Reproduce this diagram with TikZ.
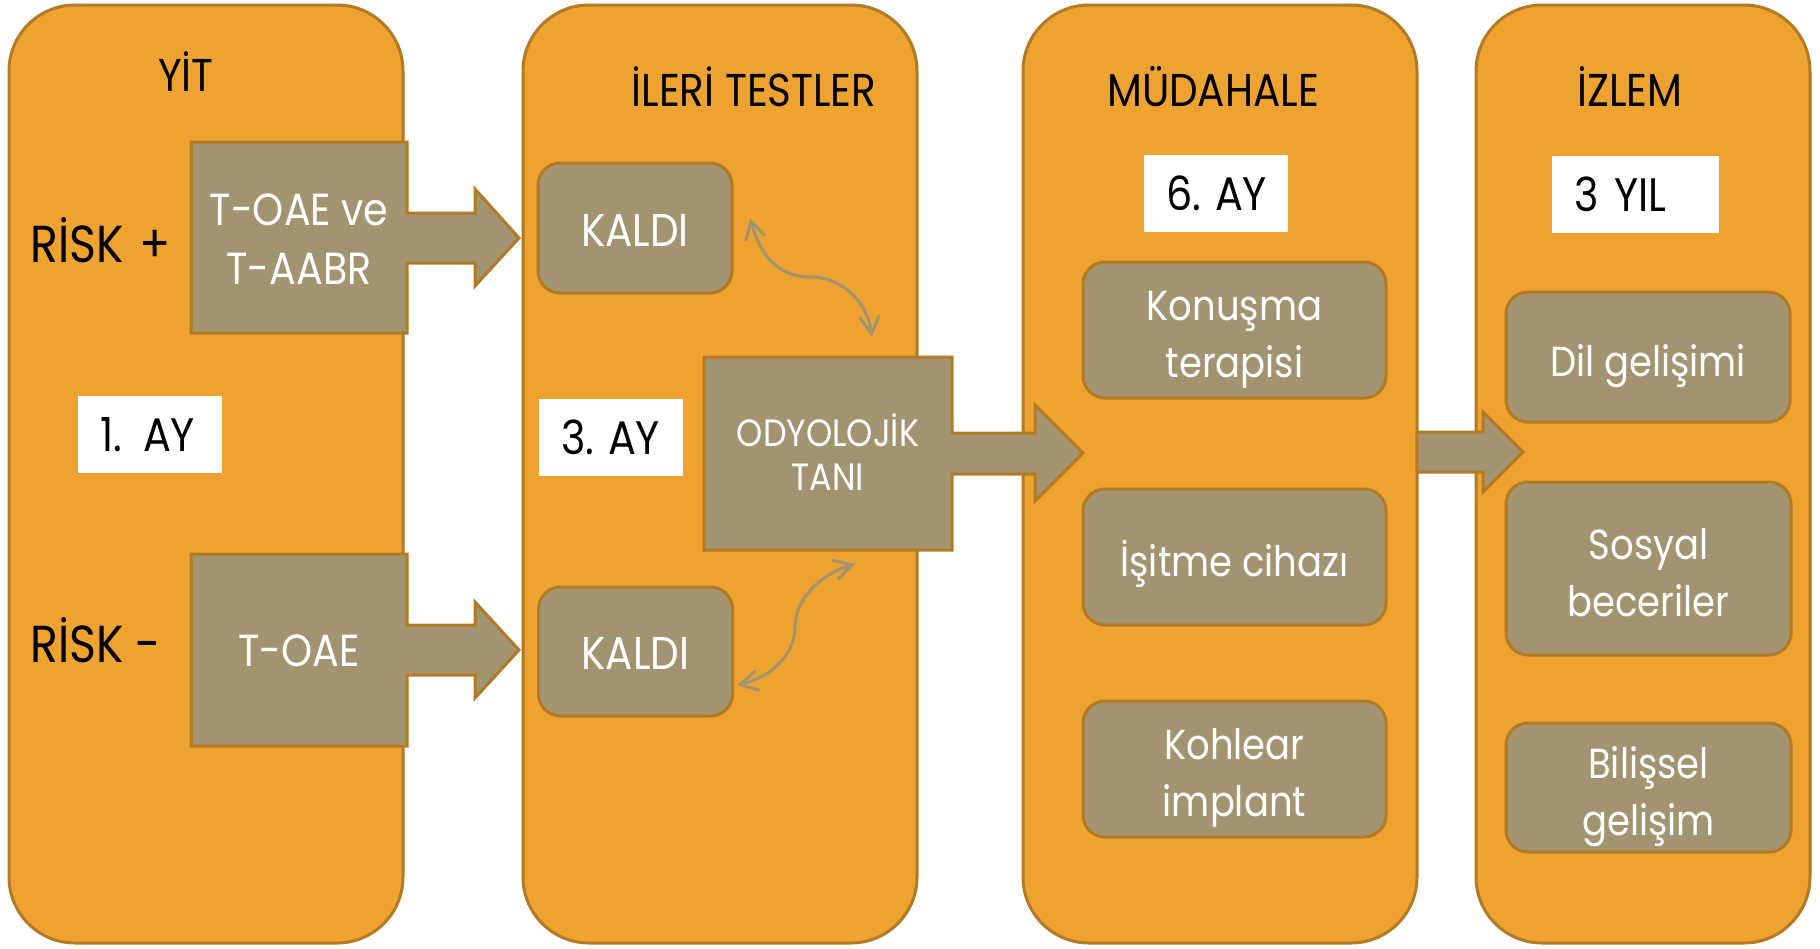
\documentclass[tikz,border=0pt]{standalone}
\usepackage{fontspec}
\setmainfont{Poppins}[FakeStretch=0.88]
\usetikzlibrary{arrows.meta}
\definecolor{orangefill}{HTML}{EEA22F}
\definecolor{orangeline}{HTML}{B47A23}
\definecolor{graybox}{HTML}{A29470}
\begin{document}
\begin{tikzpicture}[x=0.5pt,y=-0.5pt,
  panel/.style={draw=orangeline, fill=orangefill, line width=1.5pt, rounded corners=33pt, minimum height=469pt, inner sep=0pt},
  gbox/.style={draw=orangeline, fill=graybox, line width=1.5pt, rounded corners=11pt, text=white, align=center, inner sep=0pt, text depth=0pt},
  gone/.style={gbox, font=\fontsize{21}{28.5}\selectfont, text height=19.3pt},
  gtwo/.style={gbox, font=\fontsize{21}{28.5}\selectfont, text height=47.8pt},
  gcaps/.style={gbox, font=\fontsize{23}{28}\selectfont, text height=18.4pt},
  gtext/.style={text=white, align=center, inner sep=0pt, text depth=0pt},
  blockarrow/.style={draw=orangeline, fill=graybox, line width=1.5pt, line join=miter},
  wbox/.style={fill=white, inner xsep=11pt, inner ysep=0pt, minimum height=38.5pt, align=left, font=\fontsize{23.5}{28}\selectfont},
  head/.style={anchor=base, inner sep=0pt, font=\fontsize{23}{27}\selectfont},
  risk/.style={anchor=base west, inner sep=0pt, font=\fontsize{26}{30}\selectfont},
  link/.style={draw=graybox, line width=1.5pt, {Straight Barb[length=9pt,width=10pt]}-{Straight Barb[length=9pt,width=10pt]}}
]
\useasboundingbox (0,0) rectangle (1820,948);

% ---------- Panel 1: YIT ----------
\node[panel, minimum width=197pt] (p1) at (206,474) {};
\node[head] (h1) at (186,91) {YİT};
\node[risk] (r1) at (30,262) {RİSK\hspace{0.3em}+};
\node[risk] (r2) at (30,662) {RİSK -};
\node[wbox, text width=50pt] (ay1) at (150,434.5) {\mbox{1.\hspace{0.45em}AY}};

\draw[blockarrow] (191,142) -- (407,142) -- (407,213) -- (475,213) -- (475,189) -- (519,238)
  -- (475,286) -- (475,263) -- (407,263) -- (407,333) -- (191,333) -- cycle;
\node[gtext, font=\fontsize{22.5}{29.5}\selectfont, text height=45.2pt] (t1) at (299,239) {T-OAE ve\\T-AABR};

\draw[blockarrow] (191,554) -- (407,554) -- (407,625) -- (475,625) -- (475,602) -- (519,650)
  -- (475,698) -- (475,675) -- (407,675) -- (407,746) -- (191,746) -- cycle;
\node[gtext, font=\fontsize{22.5}{29.5}\selectfont, text height=15.7pt] (t2) at (299,651) {T-OAE};

% ---------- Panel 2: ILERI TESTLER ----------
\node[panel, minimum width=197pt] (p2) at (720,474) {};
\node[head] (h2) at (754,106) {İLERİ TESTLER};
\node[gcaps, minimum width=97pt, minimum height=65pt] (k1) at (635,228) {KALDI};
\node[gcaps, minimum width=97pt, minimum height=64.5pt] (k2) at (635.5,651.5) {KALDI};
\node[wbox, text width=50pt] (ay3) at (611,437) {\mbox{3.\hspace{0.3em}AY}};

% ---------- Panel 3: MUDAHALE ----------
\node[panel, minimum width=197pt] (p3) at (1220,474) {};

\draw[blockarrow] (704,357) -- (952,357) -- (952,433) -- (1035,433) -- (1035,405) -- (1083,453)
  -- (1035,501) -- (1035,474) -- (952,474) -- (952,550) -- (704,550) -- cycle;
\node[gtext, font=\fontsize{19}{22}\selectfont, text height=35.3pt] (ody) at (828,455) {ODYOLOJİK\\TANI};

\node[head] (h3) at (1213,106) {MÜDAHALE};
\node[wbox, text width=50pt] (ay6) at (1216,193) {\mbox{6.\hspace{0.3em}AY}};
\node[gtwo, minimum width=151.5pt, minimum height=68pt] (m1) at (1234.5,330) {Konuşma\\terapisi};
\node[gone, minimum width=151.5pt, minimum height=68pt] (m2) at (1234.5,557) {İşitme cihazı};
\node[gtwo, minimum width=151.5pt, minimum height=68pt] (m3) at (1234.5,769) {Kohlear\\implant};

% ---------- Panel 4: IZLEM ----------
\node[panel, minimum width=167pt] (p4) at (1643,474) {};
\draw[blockarrow] (1417,432) -- (1483,432) -- (1483,412) -- (1523,452) -- (1483,492)
  -- (1483,472) -- (1417,472) -- cycle;
\node[head] (h4) at (1630,106) {İZLEM};
\node[wbox, text width=61.5pt] (yil) at (1635.5,194.5) {\mbox{3 YIL}};
\node[gone, minimum width=142pt, minimum height=65pt] (z1) at (1648,357) {Dil gelişimi};
\node[gtwo, minimum width=142.5pt, minimum height=86.5pt] (z2) at (1648.5,568.5) {Sosyal\\beceriler};
\node[gtwo, minimum width=142.5pt, minimum height=64.5pt] (z3) at (1648.5,787.5) {Bilişsel\\gelişim};

% ---------- curved double arrows ----------
\coordinate (c1s) at (750,218);
\coordinate (c1m) at (810,277);
\coordinate (c1e) at (872,337);
\draw[link] (c1s) .. controls (760,255) and (778,277) .. (c1m)
  .. controls (845,277) and (868,305) .. (c1e);

\coordinate (c2s) at (855,564);
\coordinate (c2m) at (795,627);
\coordinate (c2e) at (737,685);
\draw[link] (c2s) .. controls (820,574) and (795,600) .. (c2m)
  .. controls (795,655) and (770,678) .. (c2e);
\end{tikzpicture}
\end{document}
